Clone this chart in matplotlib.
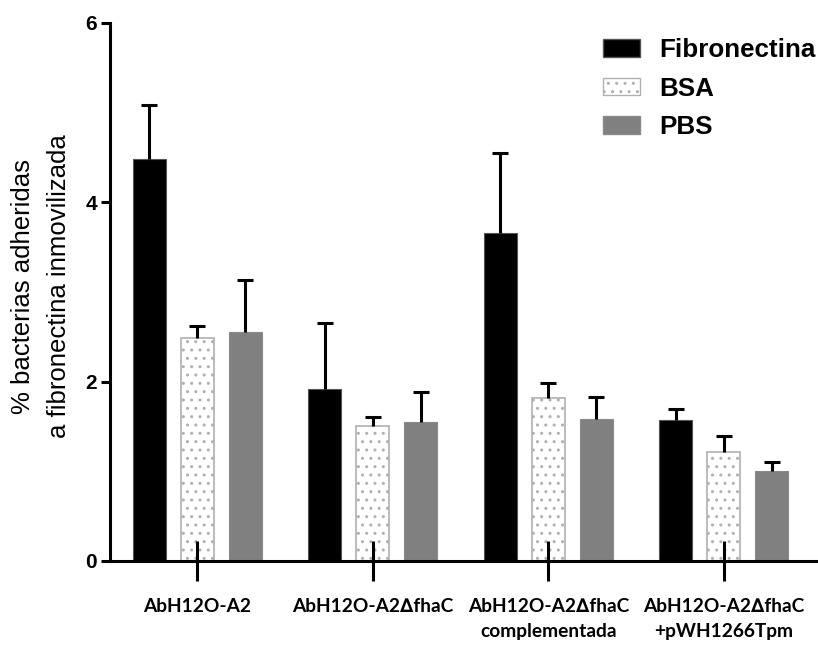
import matplotlib
matplotlib.use("Agg")
import matplotlib.pyplot as plt
import numpy as np
from matplotlib.patches import Patch

groups = ["AbH12O-A2", "AbH12O-A2\u2206fhaC", "AbH12O-A2\u2206fhaC\ncomplementada", "AbH12O-A2\u2206fhaC\n+pWH1266Tpm"]
series = ["Fibronectina", "BSA", "PBS"]
fib = [4.48, 1.92, 3.66, 1.57]
fib_err = [0.61, 0.73, 0.89, 0.12]
bsa = [2.49, 1.51, 1.82, 1.22]
bsa_err = [0.13, 0.10, 0.17, 0.17]
pbs = [2.55, 1.55, 1.58, 1.00]
pbs_err = [0.58, 0.33, 0.25, 0.10]
yticks = [0, 2, 4, 6]

W, H = 818, 646
fig = plt.figure(figsize=(W / 100, H / 100), dpi=100)
ax = fig.add_axes([110 / W, 1 - 561 / H, 1 - 110 / W, (561 - 23) / H])

x = np.arange(len(groups))
bw = 0.188
off = 0.2735
styles = [
    dict(color="black", edgecolor="#555555", linewidth=0.8),
    dict(color="white", edgecolor="#b0b0b0", linewidth=1.2, hatch=".."),
    dict(color="#808080", edgecolor="#8a8a8a", linewidth=0.8),
]
vals = [fib, bsa, pbs]
errs = [fib_err, bsa_err, pbs_err]
for i in range(3):
    xi = x + (i - 1) * off
    ax.bar(xi, vals[i], width=bw, zorder=1, **styles[i])
    v = np.array(vals[i]); e = np.array(errs[i])
    eb = ax.errorbar(xi, v, yerr=[np.zeros_like(e), e], fmt="none", ecolor="black",
                     elinewidth=2.2, capsize=5.8, capthick=2.2, zorder=2)
    caps = eb[1]
    if len(caps) == 2:
        caps[0].set_visible(False)

ax.set_xlim(-0.497, 3.537)
ax.set_ylim(0, 6)
ax.set_yticks(yticks)
ax.set_yticklabels([str(t) for t in yticks], fontfamily="Liberation Sans", fontweight="bold", fontsize=15)
ax.set_xticks(x)
ax.set_xticklabels(groups, fontfamily=["Lato", "DejaVu Sans"], fontweight="bold", fontsize=13.8,
                   linespacing=1.62)
for s in ["top", "right"]:
    ax.spines[s].set_visible(False)
for s in ["left", "bottom"]:
    ax.spines[s].set_linewidth(2.2)
ax.tick_params(axis="y", direction="out", length=6.5, width=2.2, pad=3)
ax.tick_params(axis="x", direction="inout", length=29, width=2.2, pad=12)
for sp in ax.spines.values():
    sp.set_clip_on(False)

fig.text(41 / W, 1 - 286 / H, "% bacterias adheridas\na fibronectina inmovilizada",
         rotation=90, ha="center", va="center", multialignment="center",
         fontfamily="Liberation Sans", fontsize=18.5, linespacing=1.65)

handles = [Patch(facecolor="black", edgecolor="#555555"),
           Patch(facecolor="white", edgecolor="#b0b0b0", hatch=".."),
           Patch(facecolor="#808080", edgecolor="#8a8a8a")]
leg = fig.legend(handles, series, loc="upper left", bbox_to_anchor=(603 / W, 1 - 38 / H),
                 frameon=False, prop=dict(family="Liberation Sans", weight="bold", size=18.7),
                 handlelength=1.42, handleheight=0.65, handletextpad=0.76, labelspacing=0.56,
                 borderpad=0, borderaxespad=0)

fig.savefig("out.png", dpi=100)
